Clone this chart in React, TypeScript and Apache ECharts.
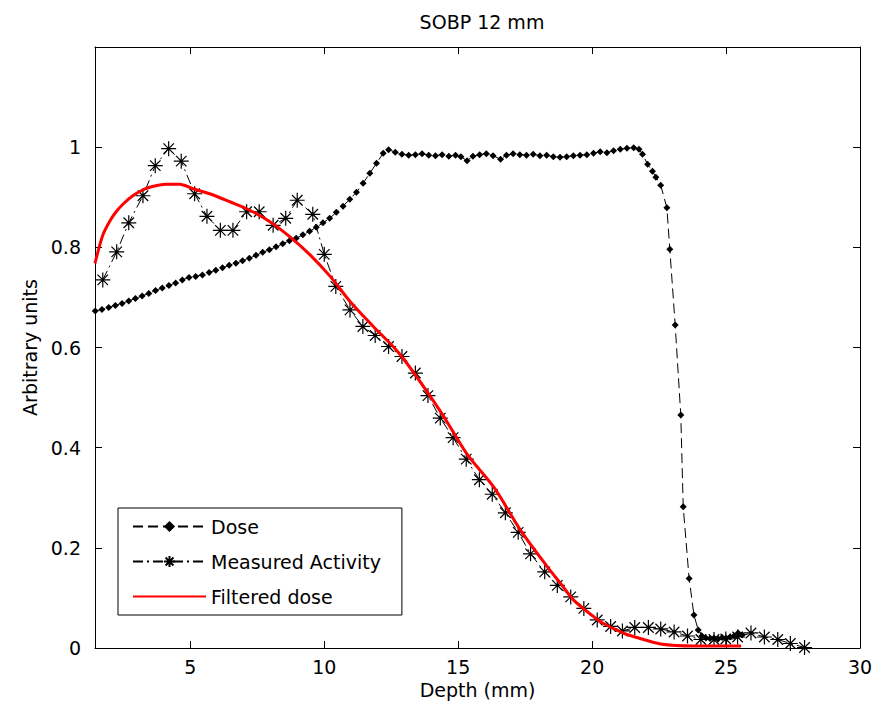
import React, { useEffect, useRef } from 'react';
import * as echarts from 'echarts';

const FONT = 'DejaVu Sans';

const xTickValues = [5, 10, 15, 20, 25, 30];

const doseX = [
  1.45, 1.7, 1.95, 2.2, 2.45, 2.7, 2.95, 3.2, 3.45, 3.7, 3.95, 4.2, 4.45, 4.7, 4.95,
  5.2, 5.45, 5.7, 5.95, 6.2, 6.45, 6.7, 6.95, 7.2, 7.45, 7.7, 7.95, 8.2, 8.45, 8.7,
  8.95, 9.2, 9.45, 9.7, 9.95, 10.2, 10.45, 10.7, 10.95, 11.2, 11.45, 11.7, 11.95, 12.2, 12.4,
  12.65, 12.9, 13.15, 13.4, 13.65, 13.9, 14.15, 14.4, 14.65, 14.9, 15.1, 15.33, 15.55, 15.8, 16.05,
  16.3, 16.58, 16.8, 17.05, 17.3, 17.55, 17.8, 18.05, 18.3, 18.55, 18.8, 19.05, 19.3, 19.55, 19.8,
  20.05, 20.3, 20.55, 20.8, 21.05, 21.3, 21.55, 21.75, 21.88, 22.07, 22.25, 22.38, 22.56, 22.79, 22.9,
  23.1, 23.31, 23.4, 23.62, 23.8, 23.96, 24.1, 24.25, 24.4, 24.55, 24.7, 24.85, 25.0, 25.15, 25.3,
  25.45, 25.6,
];
const doseY = [
  0.673, 0.676, 0.68, 0.684, 0.688, 0.693, 0.698, 0.703, 0.708, 0.714, 0.719, 0.724, 0.729, 0.735, 0.74,
  0.742, 0.745, 0.75, 0.754, 0.759, 0.764, 0.768, 0.773, 0.778, 0.784, 0.79, 0.795, 0.801, 0.807, 0.813,
  0.818, 0.825, 0.832, 0.84, 0.849, 0.858, 0.87, 0.882, 0.896, 0.91, 0.928, 0.948, 0.968, 0.988, 0.995,
  0.99, 0.986, 0.984, 0.985, 0.987, 0.984, 0.983, 0.985, 0.982, 0.984, 0.981, 0.973, 0.982, 0.985, 0.987,
  0.983, 0.976, 0.984, 0.987, 0.985, 0.984, 0.986, 0.983, 0.984, 0.981, 0.98, 0.981, 0.983, 0.984, 0.985,
  0.988, 0.991, 0.989, 0.993, 0.996, 0.998, 0.999, 0.996, 0.986, 0.966, 0.952, 0.94, 0.924, 0.879, 0.796,
  0.645, 0.465, 0.282, 0.139, 0.066, 0.036, 0.024, 0.02, 0.019, 0.02, 0.018, 0.021, 0.02, 0.022, 0.024,
  0.03, 0.026,
];

const activityX = [
  1.73, 2.25, 2.7, 3.23, 3.69, 4.19, 4.66, 5.16, 5.62, 6.12, 6.59, 7.1, 7.57, 8.09, 8.56,
  8.99, 9.57, 10.0, 10.43, 10.96, 11.44, 11.9, 12.4, 12.9, 13.4, 13.87, 14.33, 14.81, 15.3, 15.79,
  16.27, 16.76, 17.24, 17.7, 18.23, 18.7, 19.2, 19.69, 20.19, 20.69, 21.13, 21.59, 22.1, 22.56, 23.06,
  23.56, 24.06, 24.55, 24.99, 25.43, 25.93, 26.43, 26.93, 27.4, 27.93,
];
const activityY = [
  0.735, 0.791, 0.849, 0.903, 0.963, 0.997, 0.972, 0.907, 0.862, 0.834, 0.834, 0.871, 0.871, 0.844, 0.858,
  0.894, 0.866, 0.786, 0.722, 0.675, 0.642, 0.624, 0.602, 0.582, 0.549, 0.504, 0.459, 0.42, 0.377, 0.336,
  0.307, 0.27, 0.231, 0.188, 0.152, 0.125, 0.102, 0.079, 0.056, 0.043, 0.034, 0.041, 0.041, 0.038, 0.032,
  0.024, 0.017, 0.017, 0.018, 0.022, 0.03, 0.022, 0.017, 0.009, 0.001,
];

const filteredX = [
  1.44, 1.73, 2.0, 2.23, 2.5, 2.85, 3.2, 3.48, 3.8, 4.1, 4.6, 5.1, 5.72, 6.47, 7.22,
  7.97, 8.72, 9.47, 10.22, 10.96, 11.83, 12.83, 14.33, 15.33, 16.33, 17.33, 18.33, 18.82, 19.32, 20.07,
  20.32, 21.19, 21.6, 22.56, 23.81, 25.56,
];
const filteredY = [
  0.768, 0.824, 0.853, 0.871, 0.887, 0.903, 0.914, 0.92, 0.924, 0.926, 0.926, 0.917, 0.907, 0.891, 0.874,
  0.851, 0.821, 0.785, 0.742, 0.692, 0.642, 0.586, 0.473, 0.387, 0.321, 0.235, 0.162, 0.129, 0.095, 0.062,
  0.052, 0.029, 0.022, 0.008, 0.004, 0.004,
];

const zip = (xs: number[], ys: number[]) => xs.map((x, i) => [x, ys[i]]);

const STAR = 'path://M10,0L10,20M0,10L20,10M3,3L17,17M3,17L17,3';

export default function App() {
  const ref = useRef<HTMLDivElement>(null);
  useEffect(() => {
    const chart = echarts.init(ref.current!, null, { renderer: 'svg' });
    const txt = { fontFamily: FONT, fontSize: 19, color: '#000' };
    const axisLine = { show: true, onZero: false, lineStyle: { color: '#000', width: 1 } };
    chart.setOption({
      animation: false,
      backgroundColor: '#fff',
      title: {
        text: 'SOBP 12 mm',
        left: 477,
        top: 7,
        textAlign: 'center',
        textStyle: { ...txt, fontWeight: 'normal' },
      },
      grid: { left: 95, right: 23, top: 47, bottom: 64, containLabel: false },
      legend: {
        left: 118,
        top: 508,
        orient: 'vertical',
        itemWidth: 73,
        itemHeight: 14,
        itemGap: 16,
        padding: [9, 21, 9, 14],
        borderColor: '#000',
        borderWidth: 1,
        backgroundColor: '#fff',
        textStyle: txt,
        data: [
          { name: 'Dose' },
          { name: 'Measured Activity' },
          { name: 'Filtered dose', itemStyle: { opacity: 0 } },
        ],
      },
      xAxis: [
        {
          type: 'value',
          min: 1.44,
          max: 30,
          position: 'bottom',
          axisLine,
          axisTick: { inside: true, length: 7, customValues: xTickValues, lineStyle: { color: '#000' } },
          axisLabel: { ...txt, customValues: xTickValues, margin: 9 },
          splitLine: { show: false },
          name: 'Depth (mm)',
          nameLocation: 'middle',
          nameGap: 32,
          nameTextStyle: txt,
        },
        {
          type: 'value',
          min: 1.44,
          max: 30,
          position: 'top',
          axisLine,
          axisTick: { inside: true, length: 7, customValues: xTickValues, lineStyle: { color: '#000' } },
          axisLabel: { show: false },
          splitLine: { show: false },
        },
      ],
      yAxis: [
        {
          type: 'value',
          min: 0,
          max: 1.2,
          interval: 0.2,
          position: 'left',
          axisLine,
          axisTick: { inside: true, length: 7, lineStyle: { color: '#000' } },
          axisLabel: {
            ...txt,
            margin: 14,
            formatter: (v: number) => (v > 1.05 ? '' : String(Math.round(v * 10) / 10)),
          },
          splitLine: { show: false },
          name: 'Arbitrary units',
          nameLocation: 'middle',
          nameGap: 53,
          nameTextStyle: txt,
        },
        {
          type: 'value',
          min: 0,
          max: 1.2,
          interval: 0.2,
          position: 'right',
          axisLine,
          axisTick: { inside: true, length: 7, lineStyle: { color: '#000' } },
          axisLabel: { show: false },
          splitLine: { show: false },
        },
      ],
      series: [
        {
          name: 'Dose',
          type: 'line',
          data: zip(doseX, doseY),
          symbol: 'diamond',
          symbolSize: 7,
          showAllSymbol: true,
          color: '#000',
          itemStyle: { color: '#000', borderColor: '#000', borderWidth: 0 },
          lineStyle: { color: '#000', width: 1, type: [10, 5] },
          z: 3,
        },
        {
          name: 'Measured Activity',
          type: 'line',
          data: zip(activityX, activityY),
          symbol: STAR,
          symbolSize: 15,
          showAllSymbol: true,
          color: '#000',
          itemStyle: { color: '#000', borderColor: '#000', borderWidth: 1.2 },
          lineStyle: { color: '#000', width: 1, type: [10, 4, 2, 4] },
          z: 4,
        },
        {
          name: 'Filtered dose',
          type: 'line',
          data: zip(filteredX, filteredY),
          symbol: 'none',
          smooth: 0.3,
          color: '#ff0000',
          lineStyle: { color: '#ff0000', width: 3 },
          z: 5,
        },
      ],
    });
    return () => chart.dispose();
  }, []);
  return (
    <div
      ref={ref}
      style={{ position: 'absolute', left: 0, top: 0, width: 883, height: 712 }}
    />
  );
}
